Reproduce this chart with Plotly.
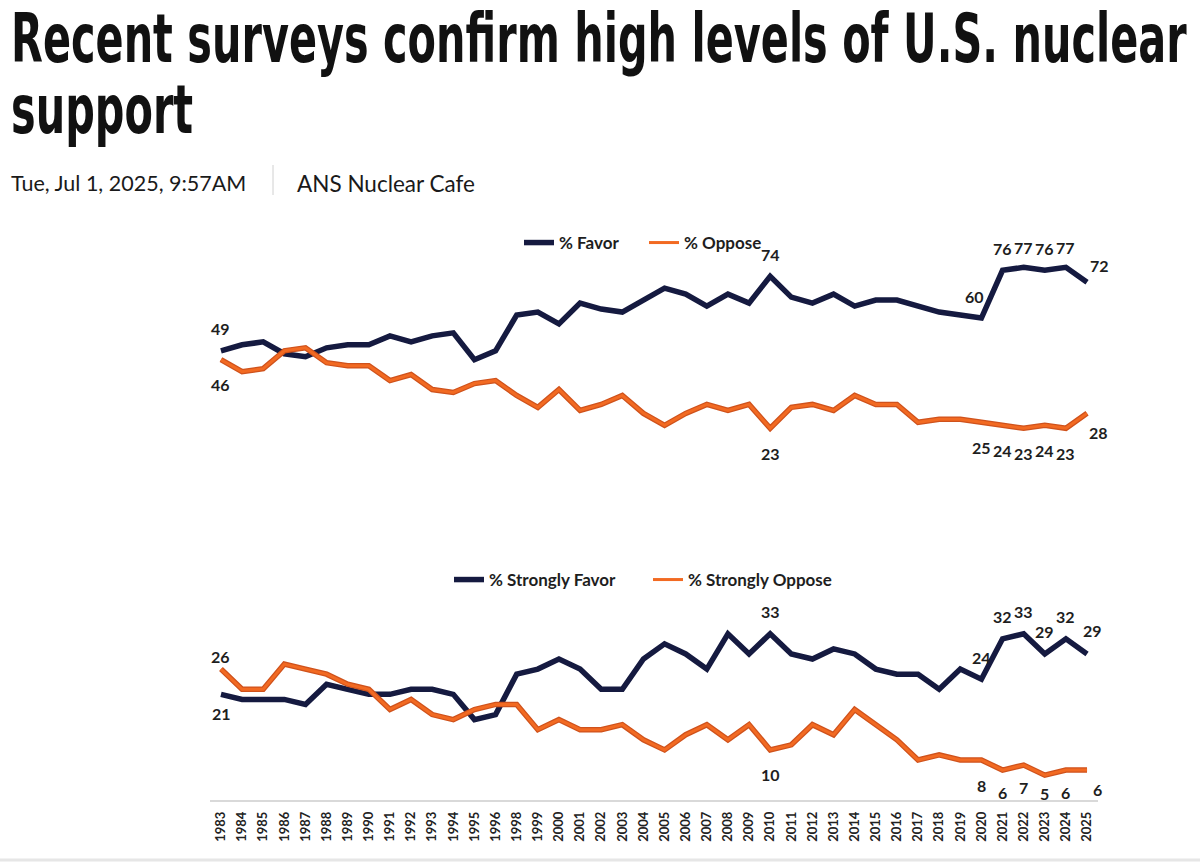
import plotly.graph_objects as go

years = ["1983","1984","1985","1986","1987","1988","1989","1990","1991","1992",
         "1993","1994","1995","1996","1998","1999","2000","2001","2002","2003",
         "2004","2005","2006","2007","2008","2009","2010","2011","2012","2013",
         "2014","2015","2016","2017","2018","2019","2020","2021","2022","2023",
         "2024","2025"]

favor = [49,51,52,48,47,50,51,51,54,52,54,55,46,49,61,62,58,65,63,62,
         66,70,68,64,68,65,74,67,65,68,64,66,66,64,62,61,60,76,77,76,77,72]
oppose = [46,42,43,49,50,45,44,44,39,41,36,35,38,39,34,30,36,29,31,34,
          28,24,28,31,29,31,23,30,31,29,34,31,31,25,26,26,25,24,23,24,23,28]
strongly_favor = [21,20,20,20,19,23,22,21,21,22,22,21,16,17,25,26,28,26,22,22,
                  28,31,29,26,33,29,33,29,28,30,29,26,25,25,22,26,24,32,33,29,32,29]
strongly_oppose = [26,22,22,27,26,25,23,22,18,20,17,16,18,19,19,14,16,14,14,15,
                   12,10,13,15,12,15,10,11,15,13,18,15,12,8,9,8,8,6,7,5,6,6]

# which points carry a value label
favor_labels = ["1983","2010","2020","2021","2022","2023","2024","2025"]
oppose_labels = ["1983","2010","2020","2021","2022","2023","2024","2025"]
sfavor_labels = ["1983","2010","2020","2021","2022","2023","2024","2025"]
soppose_labels = ["1983","2010","2020","2021","2022","2023","2024","2025"]

NAVY = "#151a40"
ORANGE = "#f26a22"
ORANGE_EDGE = "#cf521c"
W, H = 1200, 862

def px_x(x):
    return x / W

def px_y(y):
    return 1 - y / H

fig = go.Figure()

def add_series(values, name, color, xa, ya, leg, edge=None):
    if edge:
        fig.add_trace(go.Scatter(x=years, y=values, mode="lines", showlegend=False,
                                 hoverinfo="skip", line=dict(color=edge, width=5.5),
                                 xaxis=xa, yaxis=ya))
        fig.add_trace(go.Scatter(x=years, y=values, name=name, mode="lines",
                                 line=dict(color=color, width=3), xaxis=xa, yaxis=ya,
                                 legend=leg))
    else:
        fig.add_trace(go.Scatter(x=years, y=values, name=name, mode="lines",
                                 line=dict(color=color, width=5.5), xaxis=xa, yaxis=ya,
                                 legend=leg))

add_series(favor, "% Favor", NAVY, "x2", "y2", "legend")
add_series(oppose, "% Oppose", ORANGE, "x2", "y2", "legend2", edge=ORANGE_EDGE)
add_series(strongly_favor, "% Strongly Favor", NAVY, "x", "y", "legend3")
add_series(strongly_oppose, "% Strongly Oppose", ORANGE, "x", "y", "legend4", edge=ORANGE_EDGE)

# axis geometry
n = len(years)
x_left, x_right = 210.4, 1097.6
xdom = [px_x(x_left), px_x(x_right)]

bot_zero, bot_top = 800.4, 560
bot_ppu = 5.05
top_zero, top_top = 496.8, 230
top_ppu = 2.98

label_font = dict(family="Lato, 'Open Sans', sans-serif", size=16, color="#1e1e1e", weight="bold")

annotations = []

def add_labels(labels, values, xref, yref, yshift, overrides=None):
    overrides = overrides or {}
    for yr in labels:
        i = years.index(yr)
        xs, ys = overrides.get(yr, (0, yshift))
        annotations.append(dict(x=i, y=values[i], xref=xref, yref=yref,
                                text=str(values[i]), showarrow=False,
                                xshift=xs, yshift=ys, font=label_font))

add_labels(favor_labels, favor, "x2", "y2", 22,
           {"2020": (-7, 22), "2022": (0, 20), "2024": (0, 20), "2025": (12, 17)})
add_labels(oppose_labels, oppose, "x2", "y2", -25,
           {"2025": (11, -19)})
add_labels(sfavor_labels, strongly_favor, "x", "y", 22,
           {"1983": (1, -19), "2025": (5, 23)})
add_labels(soppose_labels, strongly_oppose, "x", "y", -22,
           {"1983": (0, 13), "2023": (0, -18), "2025": (10, -19), "2010": (0, -25), "2020": (0, -25)})

# title and byline (title drawn smaller, then stretched to the condensed look)
title_font = dict(family="'DejaVu Sans', sans-serif", size=48, color="#111111", weight="bold")
annotations.append(dict(x=px_x(9), y=px_y(62), xref="paper", yref="paper",
                        xanchor="left", yanchor="bottom", showarrow=False, align="left",
                        text="Recent surveys confirm high levels of U.S. nuclear",
                        font=title_font, yshift=-18))
annotations.append(dict(x=px_x(9), y=px_y(133), xref="paper", yref="paper",
                        xanchor="left", yanchor="bottom", showarrow=False, align="left",
                        text="support", font=title_font, yshift=-18))
by_font = dict(family="Lato, sans-serif", size=21.5, color="#1a1a1a")
annotations.append(dict(x=px_x(9), y=px_y(183), xref="paper", yref="paper",
                        xanchor="left", yanchor="middle", showarrow=False,
                        text="Tue, Jul 1, 2025, 9:57AM", font=by_font))
annotations.append(dict(x=px_x(295), y=px_y(183), xref="paper", yref="paper",
                        xanchor="left", yanchor="middle", showarrow=False,
                        text="ANS Nuclear Cafe", font=dict(by_font, size=22.5)))

shapes = [
    dict(type="line", xref="paper", yref="paper", x0=px_x(273), x1=px_x(273),
         y0=px_y(165), y1=px_y(195), line=dict(color="#d0d0d0", width=1)),
    dict(type="line", xref="paper", yref="paper", x0=0, x1=1,
         y0=px_y(860), y1=px_y(860), line=dict(color="#e6e6e6", width=3)),
]

tick_font = dict(family="Lato, sans-serif", size=13, color="#222222", weight="bold")
legend_font = dict(family="Lato, sans-serif", size=17, color="#1e1e1e", weight="bold")

def legend_at(x, y):
    return dict(orientation="h", x=px_x(x), y=px_y(y), xanchor="left", yanchor="middle",
                font=legend_font, bgcolor="rgba(0,0,0,0)", itemwidth=30, tracegroupgap=0)

fig.update_layout(
    width=W, height=H, margin=dict(l=0, r=0, t=0, b=0),
    paper_bgcolor="white", plot_bgcolor="white",
    xaxis=dict(domain=xdom, type="category", categoryorder="array", categoryarray=years,
               range=[-0.5, n - 0.5], tickangle=-90, tickfont=tick_font,
               showline=True, linecolor="#d9d9d9", linewidth=2, ticks="",
               showgrid=False, zeroline=False, anchor="y", ticklabelstandoff=4),
    yaxis=dict(domain=[px_y(bot_zero), px_y(bot_top)],
               range=[0, (bot_zero - bot_top) / bot_ppu], visible=False,
               anchor="x"),
    xaxis2=dict(domain=xdom, type="category", categoryorder="array", categoryarray=years,
                range=[-0.5, n - 0.5], visible=False, anchor="y2"),
    yaxis2=dict(domain=[px_y(top_zero), px_y(top_top)],
                range=[0, (top_zero - top_top) / top_ppu], visible=False,
                anchor="x2"),
    legend=legend_at(519, 243),
    legend2=legend_at(644, 243),
    legend3=legend_at(449, 580),
    legend4=legend_at(648, 580),
    showlegend=True,
    annotations=annotations,
    shapes=shapes,
)

post = """
document.body.style.margin='0';
document.body.style.overflow='hidden';
(function(){
  var ts = document.querySelectorAll('text.annotation-text');
  var sx = null;
  ts.forEach(function(t){
    if (t.textContent.indexOf('Recent surveys') === 0) { sx = 1176 / t.getBBox().width; }
  });
  var sy = 68 / 48;
  if (sx) {
    ts.forEach(function(t){
      if (t.textContent.indexOf('Recent surveys') === 0 || t.textContent === 'support') {
        t.style.transformBox = 'fill-box';
        t.style.transformOrigin = '0% 100%';
        t.style.transform = 'scale(' + sx + ',' + sy + ')';
      }
    });
  }
})();
"""

fig.write_html("out.html", config={"displayModeBar": False}, post_script=post)
